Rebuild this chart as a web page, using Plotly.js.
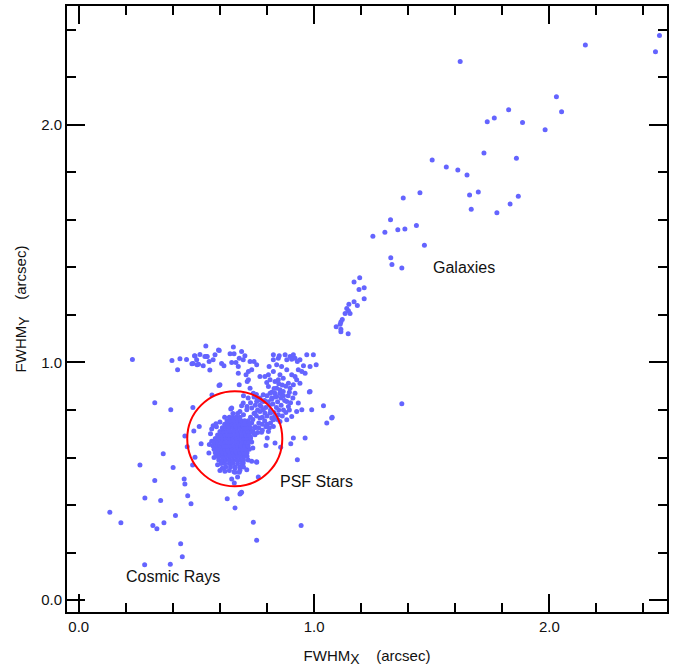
<!DOCTYPE html>
<html>
<head>
<meta charset="utf-8">
<script src="https://cdn.plot.ly/plotly-3.0.1.min.js"></script>
<style>html,body{margin:0;padding:0;background:#fff;}#chart{width:687px;height:671px;}</style>
</head>
<body>
<div id="chart"></div>
<script>
// Galaxies (extended sources)
const galaxyX = [1.621, 2.153, 2.468, 2.451, 2.030, 2.052, 1.827, 1.766, 1.736, 1.886, 1.982, 1.722, 1.860, 1.611, 1.650, 1.661, 1.698, 1.868, 1.668, 1.777, 1.833,
  1.502, 1.562,
  1.450, 1.379, 1.325, 1.435, 1.386, 1.356, 1.301, 1.250, 1.469, 1.326, 1.331, 1.373, 1.194, 1.170, 1.213, 1.191, 1.213, 1.170, 1.148, 1.184, 1.139, 1.146, 1.132, 1.153, 1.120, 1.114, 1.111, 1.094, 1.114, 1.114, 1.145, 1.373, 1.077];
const galaxyY = [2.266, 2.336, 2.376, 2.308, 2.118, 2.055, 2.063, 2.029, 2.013, 2.010, 1.979, 1.881, 1.859, 1.810, 1.789, 1.705, 1.717, 1.699, 1.645, 1.630, 1.667,
  1.852, 1.822,
  1.714, 1.692, 1.601, 1.576, 1.562, 1.558, 1.548, 1.531, 1.493, 1.441, 1.412, 1.398, 1.357, 1.339, 1.314, 1.307, 1.268, 1.256, 1.245, 1.240, 1.227, 1.218, 1.206, 1.206, 1.181, 1.170, 1.161, 1.150, 1.140, 1.129, 1.121, 0.826, 0.769];

// Saturated band near FWHM_Y ~ 1.0 (left part)
const bandX = [0.228, 0.396, 0.430, 0.420, 0.458, 0.494, 0.515, 0.540, 0.594, 0.486, 0.509, 0.529, 0.554, 0.557, 0.571, 0.543, 0.607, 0.492, 0.536, 0.546, 0.501, 0.481, 0.503, 0.579, 0.657, 0.597, 0.643, 0.660, 0.692, 0.706, 0.682, 0.699, 0.650, 0.668, 0.617, 0.678, 0.728, 0.745, 0.756, 0.735, 0.721, 0.678, 0.711, 0.721, 0.716, 0.682, 0.600, 0.596, 0.566];
const bandY = [1.013, 1.008, 1.016, 0.969, 1.013, 1.027, 1.034, 1.069, 1.052, 0.996, 0.992, 0.986, 1.004, 0.968, 1.011, 1.025, 0.996, 1.028, 1.025, 1.025, 1.011, 0.995, 0.990, 1.032, 1.065, 1.050, 1.037, 1.037, 1.046, 1.028, 1.018, 1.011, 1.000, 1.000, 0.986, 0.983, 1.004, 1.004, 0.990, 0.969, 0.962, 0.955, 0.948, 0.927, 0.920, 0.906, 0.906, 0.903, 0.863];

// Stream of stars running up-right from the PSF core
const streamX = [0.770, 0.791, 0.806, 0.809, 0.827, 0.848, 0.852, 0.827, 0.877, 0.898, 0.912, 0.919, 0.884, 0.905, 0.929, 0.940, 0.955, 0.969, 0.997, 1.009, 0.983, 0.962, 0.933, 0.948, 0.841, 0.862, 0.827, 0.884, 0.905, 0.919, 0.855, 0.869, 0.848, 0.834, 0.813, 0.799, 0.891, 0.926, 0.940, 0.912, 0.898, 0.919, 0.841, 0.855, 0.834, 0.855, 0.862, 0.841, 0.869, 0.806, 0.813, 0.820, 0.784, 0.770, 0.756, 0.784, 0.983, 0.933, 0.884, 0.891, 0.926, 0.948, 0.990, 1.040, 1.075, 1.054, 0.884, 0.905, 0.848, 0.813, 0.784, 0.827, 0.855, 0.770, 0.735, 0.749, 0.728, 0.742, 0.650, 0.912, 0.962, 0.699, 0.714, 0.685, 0.980, 0.901, 0.929, 0.834, 0.796, 0.858, 0.756, 0.735, 0.763, 0.742, 0.945, 0.827, 0.806, 0.777, 0.749, 0.820, 0.791, 0.770, 0.801, 0.646, 0.692, 0.571, 0.583, 0.565, 0.756, 0.699, 0.714, 0.685, 0.664, 0.685, 0.692, 0.756, 0.600, 0.621, 0.650, 0.661, 0.675, 0.682, 0.664, 0.631, 0.664, 0.689,
  0.740, 0.755, 0.765, 0.780, 0.790, 0.800, 0.815, 0.830, 0.840, 0.850, 0.860, 0.870, 0.875, 0.860, 0.845, 0.825, 0.810, 0.795, 0.775, 0.760, 0.745, 0.730, 0.720, 0.735, 0.750, 0.765, 0.780, 0.800, 0.815, 0.830, 0.845, 0.865, 0.880, 0.895, 0.900, 0.910, 0.890, 0.870, 0.895, 0.880, 0.865, 0.850, 0.830, 0.820, 0.800, 0.790, 0.775, 0.805, 0.820, 0.835, 0.715, 0.705, 0.725, 0.740, 0.760, 0.780, 0.795, 0.810, 0.720, 0.700, 0.710, 0.730,
  0.700, 0.720, 0.745, 0.755, 0.730, 0.750, 0.760, 0.770, 0.715];
const streamY = [0.941, 0.941, 0.948, 0.983, 1.032, 1.018, 1.028, 1.011, 1.032, 1.025, 1.032, 1.018, 1.011, 1.014, 1.004, 1.011, 0.986, 1.032, 1.032, 0.990, 0.983, 0.955, 0.969, 0.962, 0.990, 0.983, 0.962, 0.969, 0.948, 0.941, 0.948, 0.934, 0.927, 0.920, 0.927, 0.916, 0.913, 0.927, 0.913, 0.906, 0.892, 0.871, 0.892, 0.885, 0.871, 0.871, 0.864, 0.857, 0.878, 0.899, 0.871, 0.850, 0.864, 0.850, 0.836, 0.836, 0.878, 0.829, 0.836, 0.815, 0.794, 0.801, 0.801, 0.818, 0.766, 0.745, 0.759, 0.773, 0.780, 0.787, 0.801, 0.759, 0.752, 0.766, 0.808, 0.787, 0.892, 0.871, 0.808, 0.682, 0.682, 0.829, 0.801, 0.794, 0.876, 0.658, 0.591, 0.661, 0.651, 0.643, 0.582, 0.584, 0.518, 0.328, 0.314, 0.731, 0.710, 0.706, 0.696, 0.766, 0.787, 0.794, 0.682, 0.804, 0.818, 0.734, 0.742, 0.668, 0.580, 0.577, 0.549, 0.546, 0.556, 0.447, 0.454, 0.252, 0.545, 0.542, 0.510, 0.493, 0.518, 0.538, 0.538, 0.427, 0.388, 0.451,
  0.760, 0.775, 0.745, 0.770, 0.755, 0.775, 0.800, 0.790, 0.810, 0.800, 0.820, 0.800, 0.840, 0.850, 0.835, 0.825, 0.820, 0.810, 0.815, 0.800, 0.785, 0.770, 0.755, 0.745, 0.730, 0.725, 0.740, 0.740, 0.745, 0.770, 0.760, 0.775, 0.790, 0.800, 0.830, 0.850, 0.860, 0.860, 0.875, 0.900, 0.905, 0.910, 0.890, 0.875, 0.860, 0.840, 0.840, 0.835, 0.845, 0.855, 0.735, 0.720, 0.720, 0.710, 0.705, 0.715, 0.730, 0.725, 0.700, 0.690, 0.675, 0.685,
  0.860, 0.850, 0.855, 0.865, 0.830, 0.820, 0.845, 0.820, 0.815];

// Cosmic rays and other small, sharp detections
const cosmicX = [0.323, 0.391, 0.359, 0.260, 0.401, 0.323, 0.448, 0.451, 0.281, 0.348, 0.463, 0.477, 0.132, 0.179, 0.411, 0.315, 0.332, 0.362, 0.433, 0.440, 0.280, 0.389, 0.485, 0.512, 0.451, 0.520, 0.553, 0.494, 0.484, 0.489, 0.461];
const cosmicY = [0.831, 0.801, 0.616, 0.569, 0.558, 0.503, 0.510, 0.489, 0.430, 0.419, 0.439, 0.406, 0.370, 0.326, 0.356, 0.314, 0.300, 0.326, 0.237, 0.182, 0.149, 0.151, 0.811, 0.731, 0.691, 0.658, 0.619, 0.601, 0.569, 0.712, 0.645];

// Dense PSF star core
const coreX = [
  0.625, 0.645, 0.665, 0.685,
  0.605, 0.620, 0.640, 0.655, 0.675, 0.695,
  0.595, 0.610, 0.625, 0.640, 0.655, 0.670, 0.685, 0.700,
  0.585, 0.600, 0.615, 0.630, 0.645, 0.660, 0.675, 0.690, 0.705, 0.715,
  0.580, 0.595, 0.610, 0.625, 0.640, 0.655, 0.670, 0.685, 0.700, 0.715,
  0.575, 0.590, 0.605, 0.620, 0.635, 0.650, 0.665, 0.680, 0.695, 0.710, 0.725,
  0.570, 0.585, 0.600, 0.615, 0.630, 0.645, 0.660, 0.675, 0.690, 0.705, 0.720,
  0.575, 0.590, 0.605, 0.620, 0.635, 0.650, 0.665, 0.680, 0.695, 0.710, 0.725, 0.735,
  0.580, 0.595, 0.610, 0.625, 0.640, 0.655, 0.670, 0.685, 0.700, 0.715, 0.730,
  0.590, 0.605, 0.620, 0.635, 0.650, 0.665, 0.680, 0.695, 0.710, 0.725,
  0.600, 0.615, 0.630, 0.645, 0.660, 0.675, 0.690, 0.705, 0.720, 0.735,
  0.610, 0.625, 0.640, 0.655, 0.670, 0.685, 0.700, 0.715, 0.730,
  0.620, 0.635, 0.650, 0.665, 0.680, 0.695, 0.710, 0.725,
  0.630, 0.645, 0.660, 0.675, 0.690, 0.705,
  0.640, 0.655, 0.670, 0.685,
  0.655, 0.675,
  0.560, 0.555, 0.575, 0.590, 0.610, 0.700, 0.720, 0.740, 0.745, 0.750, 0.700, 0.620, 0.600, 0.585, 0.565, 0.640, 0.660];
const coreY = [
  0.560, 0.560, 0.560, 0.560,
  0.575, 0.575, 0.575, 0.575, 0.575, 0.575,
  0.590, 0.590, 0.590, 0.590, 0.590, 0.590, 0.590, 0.590,
  0.605, 0.605, 0.605, 0.605, 0.605, 0.605, 0.605, 0.605, 0.605, 0.605,
  0.620, 0.620, 0.620, 0.620, 0.620, 0.620, 0.620, 0.620, 0.620, 0.620,
  0.635, 0.635, 0.635, 0.635, 0.635, 0.635, 0.635, 0.635, 0.635, 0.635, 0.635,
  0.650, 0.650, 0.650, 0.650, 0.650, 0.650, 0.650, 0.650, 0.650, 0.650, 0.650,
  0.665, 0.665, 0.665, 0.665, 0.665, 0.665, 0.665, 0.665, 0.665, 0.665, 0.665, 0.665,
  0.680, 0.680, 0.680, 0.680, 0.680, 0.680, 0.680, 0.680, 0.680, 0.680, 0.680,
  0.695, 0.695, 0.695, 0.695, 0.695, 0.695, 0.695, 0.695, 0.695, 0.695,
  0.710, 0.710, 0.710, 0.710, 0.710, 0.710, 0.710, 0.710, 0.710, 0.710,
  0.725, 0.725, 0.725, 0.725, 0.725, 0.725, 0.725, 0.725, 0.725,
  0.740, 0.740, 0.740, 0.740, 0.740, 0.740, 0.740, 0.740,
  0.755, 0.755, 0.755, 0.755, 0.755, 0.755,
  0.770, 0.770, 0.770, 0.770,
  0.785, 0.785,
  0.700, 0.655, 0.600, 0.570, 0.555, 0.560, 0.590, 0.640, 0.700, 0.725, 0.780, 0.770, 0.750, 0.730, 0.720, 0.545, 0.540];

// Labels
const labelText = ['Galaxies', 'PSF Stars', 'Cosmic Rays'];
const labelX = [1.638, 1.011, 0.402];
const labelY = [1.398, 0.499, 0.099];

// PSF selection circle (centre and radius, arcsec)
const circleCenter = [0.663, 0.679];
const circleRadius = [0.202, 0.200];

const allX = [].concat(galaxyX, bandX, streamX, cosmicX, coreX);
const allY = [].concat(galaxyY, bandY, streamY, cosmicY, coreY);

const FONT = 'Liberation Sans, Arial, Helvetica, sans-serif';

const axisCommon = {
  range: [-0.05, 2.5],
  tick0: 0, dtick: 1, tickformat: '.1f',
  ticks: 'inside', ticklen: 18, tickwidth: 2, tickcolor: '#000',
  minor: {dtick: 0.2, tick0: 0, ticks: 'inside', ticklen: 9, tickwidth: 2, tickcolor: '#000', showgrid: false},
  showline: true, linewidth: 2, linecolor: '#000', mirror: 'ticks',
  showgrid: false, zeroline: false,
  tickfont: {family: FONT, size: 15, color: '#111'}
};

const layout = {
  width: 687, height: 671,
  margin: {l: 67, r: 20, t: 6, b: 59},
  paper_bgcolor: '#fff', plot_bgcolor: '#fff',
  showlegend: false,
  xaxis: Object.assign({}, axisCommon, {
    title: {text: 'FWHM<sub><span style="font-size:14px">X</span></sub>\u00a0\u00a0\u00a0\u00a0(arcsec)', standoff: 16,
            font: {family: FONT, size: 15, color: '#111'}}
  }),
  yaxis: Object.assign({}, axisCommon, {
    title: {text: 'FWHM<sub><span style="font-size:14px">Y</span></sub>\u00a0\u00a0\u00a0\u00a0(arcsec)',
            font: {family: FONT, size: 15, color: '#111'}}
  }),
  shapes: [{
    type: 'circle', xref: 'x', yref: 'y',
    x0: circleCenter[0] - circleRadius[0], x1: circleCenter[0] + circleRadius[0],
    y0: circleCenter[1] - circleRadius[1], y1: circleCenter[1] + circleRadius[1],
    line: {color: '#ff0000', width: 2}
  }],
  annotations: labelText.map((t, i) => ({
    text: t, x: labelX[i], y: labelY[i], xref: 'x', yref: 'y',
    showarrow: false, font: {family: FONT, size: 16, color: '#111'}
  }))
};

const trace = {
  type: 'scatter', mode: 'markers',
  x: allX, y: allY,
  marker: {size: 5, color: 'rgb(100,100,255)', line: {width: 0}},
  hoverinfo: 'none'
};

Plotly.newPlot('chart', [trace], layout, {staticPlot: true, displayModeBar: false});
</script>
</body>
</html>
